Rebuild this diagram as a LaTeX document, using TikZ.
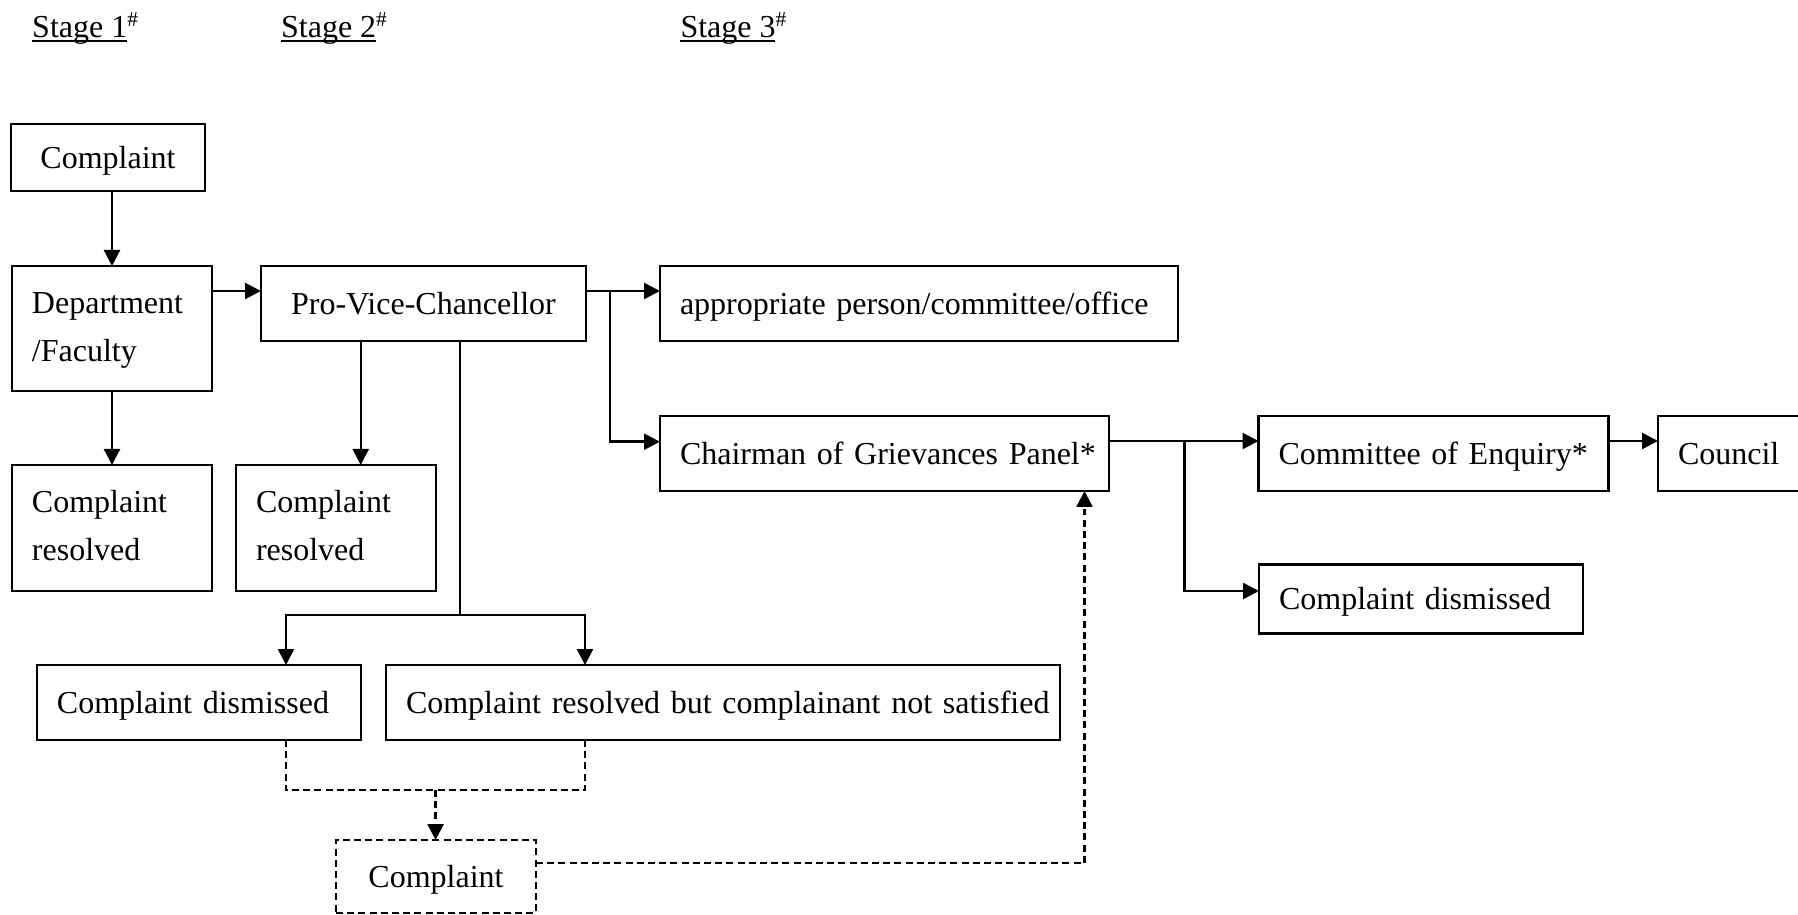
\documentclass[tikz,border=0pt]{standalone}
\usepackage{fontspec}
\setmainfont{Liberation Serif}
\usetikzlibrary{arrows.meta}
\begin{document}
\begin{tikzpicture}[x=0.375pt, y=-0.375pt,
  font=\fontsize{12}{18}\selectfont,
  bx/.style 2 args={draw, line width=1pt, minimum width=#1*0.375pt, minimum height=#2*0.375pt, inner sep=0pt, outer sep=0pt, text height=7.9pt, text depth=0pt},
  two/.style={text height=8pt, text depth=19.5pt},
  lt/.style={text width=#1, align=left, inner xsep=7.5pt},
  ln/.style={line width=0.9pt},
  arr/.style={line width=0.9pt, -{Triangle[length=6pt,width=6pt]}},
  dsh/.style={dash pattern=on 2.6pt off 1.6pt},
  stagelbl/.style={anchor=base west, inner sep=0pt},
  uline/.style={line width=0.8pt}]
\useasboundingbox (0,0) rectangle (1798,915);

% stage labels
\node[stagelbl] (s1) at (31.7,38) {Stage 1\textsuperscript{\#}};
\node[stagelbl] (s2) at (280.6,38) {Stage 2\textsuperscript{\#}};
\node[stagelbl] (s3) at (680,38) {Stage 3\textsuperscript{\#}};
\draw[uline] ([yshift=-1.2pt]s1.base west) -- ++(95,0);
\draw[uline] ([yshift=-1.2pt]s2.base west) -- ++(95,0);
\draw[uline] ([yshift=-1.2pt]s3.base west) -- ++(95,0);

% boxes
\node[bx={194}{67}] (c0) at (108,157.5) {Complaint};
\node[bx={200}{125}, two, lt=60pt] (dept) at (112,328.5) {Department\\/Faculty};
\node[bx={325}{75}] (pvc) at (423.5,303.5) {Pro-Vice-Chancellor};
\node[bx={200}{126}, two, lt=60pt] (cr1) at (112,528) {Complaint\\resolved};
\node[bx={200}{126}, two, lt=60pt] (cr2) at (336,528) {Complaint\\resolved};
\node[bx={518}{75}, lt=179.25pt] (app) at (919,303.5) {\mbox{appropriate person/committee/office}};
\node[bx={449}{75}, lt=153.375pt] (chair) at (884.5,453.5) {\mbox{Chairman of Grievances Panel*}};
\node[bx={350}{75}, lt=116.25pt] (coe) at (1433.5,453.5) {\mbox{Committee of Enquiry*}};
\node[bx={144}{75}, lt=39pt] (council) at (1730,453.5) {\mbox{Council}};
\node[bx={324}{69}, lt=106.5pt] (cd2) at (1421,599) {\mbox{Complaint dismissed}};
\node[bx={324}{75}, lt=106.5pt] (cd1) at (199,702.5) {\mbox{Complaint dismissed}};
\node[bx={674}{75}, lt=237.75pt] (crns) at (723,702.5) {\mbox{Complaint resolved but complainant not satisfied}};
\node[bx={200}{73}, dsh] (c2) at (436,876.5) {Complaint};

% solid connectors
\draw[arr] (c0.south -| dept.north) -- (dept.north);
\draw[arr] (dept.east |- 0,291) -- (pvc.west |- 0,291);
\draw[arr] (dept.south) -- (cr1.north);
\draw[arr] (pvc.south -| 360.7,0) -- (cr2.north -| 360.7,0);
\coordinate (j1) at (460.2,615);
\draw[ln] (pvc.south -| j1) -- (j1);
\draw[arr] (j1) -| (cd1.north -| 286,0);
\draw[arr] (j1) -| (crns.north -| 585,0);
\coordinate (b1) at (610.2,291);
\draw[arr] (pvc.east |- b1) -- (app.west |- b1);
\draw[arr] (b1) |- (chair.west |- 0,441.7);
\coordinate (b2) at (1184.5,441);
\draw[arr] (chair.east |- b2) -- (coe.west |- b2);
\draw[arr] (b2) |- (cd2.west |- 0,591);
\draw[arr] (coe.east |- b2) -- (council.west |- b2);

% dashed connectors
\coordinate (d1a) at (286,790);
\coordinate (d1b) at (585,790);
\coordinate (d1) at (435.6,790);
\draw[ln,dsh] (cd1.south -| d1a) -- (d1a) -- (d1b) -- (crns.south -| d1b);
\draw[arr,dsh] (d1) -- (c2.north -| d1);
\draw[arr,dsh] (c2.east |- 0,863) -| (chair.south -| 1084.5,0);
\end{tikzpicture}
\end{document}
